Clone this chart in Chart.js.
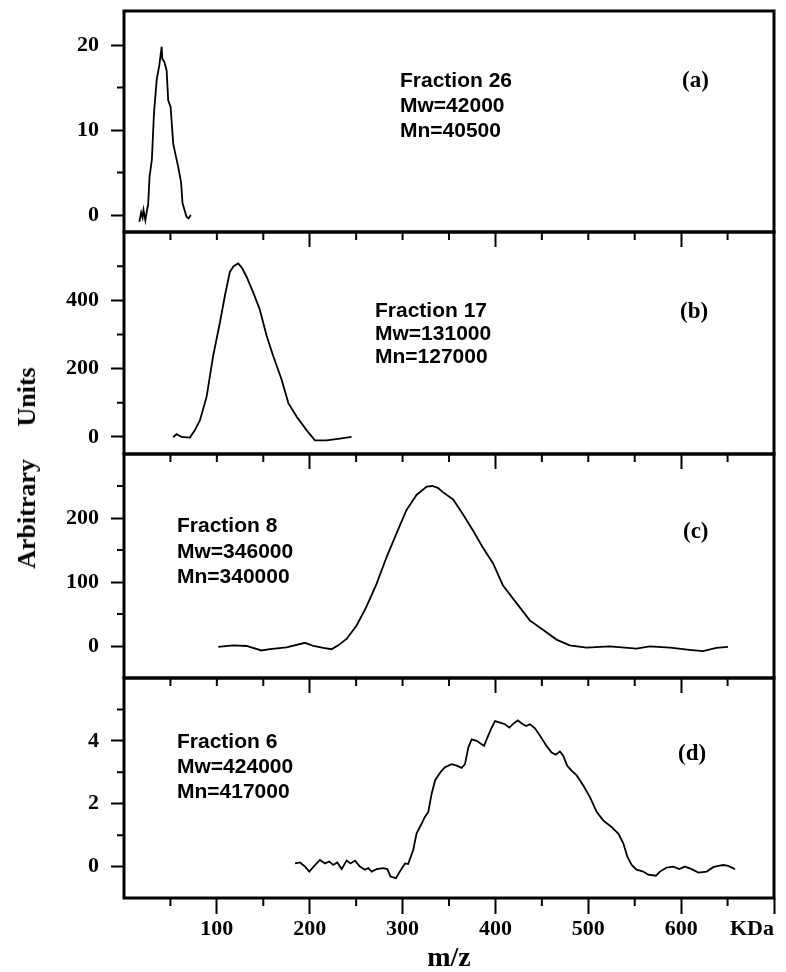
<!DOCTYPE html>
<html>
<head>
<meta charset="utf-8">
<script src="https://cdn.jsdelivr.net/npm/chart.js@4.4.0/dist/chart.umd.min.js"></script>
<style>
html, body { margin: 0; padding: 0; background: #fff; overflow: hidden; }
#wrap { position: relative; width: 786px; height: 972px; background: #fff; }
#wrap canvas { position: absolute; left: 0; }
#ylabel {
    position: absolute; left: 27px; top: 468px;
    transform: translate(-50%, -50%) rotate(-90deg);
    font: bold 26px "Liberation Serif", "Times New Roman", serif;
    white-space: pre; color: #000;
}
</style>
</head>
<body>
<div id="wrap">
    <canvas id="panelA"></canvas>
    <canvas id="panelB"></canvas>
    <canvas id="panelC"></canvas>
    <canvas id="panelD"></canvas>
    <div id="ylabel">Arbitrary     Units</div>
</div>
<script>
// Eje x (m/z, KDa)
const xMajorValues = [0, 100, 200, 300, 400, 500, 600, 700];
const xMajorLabels = ['', '100', '200', '300', '400', '500', '600', 'KDa'];
const xMinorValues = [50, 150, 250, 350, 450, 550, 650];
const innerMajorValues = [200, 400, 600];
const innerMinorValues = [50, 100, 150, 250, 300, 350, 450, 500, 550, 650];

// (a) Fraction 26
const mzA = [16.5, 18.5, 20, 21, 23, 24.5, 26, 27.5, 30, 32.3, 35.2, 38, 40.6, 41.2, 43.5, 45.9, 47.6, 50.2, 53, 55.9, 58.5, 61.5, 63, 67.3, 69.5, 72];
const intA = [-0.8, 0.3, -0.3, 0.6, -0.6, 0.4, 1.2, 4.5, 6.5, 12, 15.9, 17.6, 19.8, 18.4, 18, 17, 13.5, 12.7, 8.4, 6.9, 5.6, 3.8, 1.4, -0.2, -0.4, 0];
const yMajorA = [0, 10, 20];
const yMinorA = [5, 15];

// (b) Fraction 17
const mzB = [53, 56.7, 62, 71, 76.4, 81.8, 89, 96, 103.3, 108.7, 114, 118, 123, 127, 132, 139, 146, 153.6, 160.7, 169.7, 177, 186, 196.6, 205.6, 218, 232.5, 245];
const intB = [0, 8, 0, -2, 20, 49, 118, 237, 335, 414, 483, 500, 508, 495, 469, 424, 375, 296, 237, 168, 99, 59, 20, -10, -10, -5, 0];
const yMajorB = [0, 200, 400];
const yMinorB = [100, 300, 500];

// (c) Fraction 8
const mzC = [101.5, 117.7, 132, 148, 157, 175, 195, 204, 214.6, 223.5, 230.7, 239.7, 250.5, 261, 272, 282.8, 293.5, 304, 315, 326, 332, 338, 343.7, 354.5, 365, 376, 386.8, 397.5, 408, 422.7, 437, 451.5, 465.8, 480, 498, 523, 552, 566, 588, 609, 623.5, 638, 650.5];
const intC = [-1.5, 1, 0, -7, -5, -2, 5, 0, -3, -5, 1, 11, 32, 61, 97, 139, 176, 212, 236, 249, 250, 247, 240, 229, 206, 180, 153, 129, 95, 67, 40, 25, 10, 1, -2.6, -0.5, -4, -0.5, -2.6, -6, -8, -3, -1.5];
const yMajorC = [0, 100, 200];
const yMinorC = [50, 150, 250];

// (d) Fraction 6
const mzD = [184.2, 189.5, 195, 199.6, 205.7, 211, 216.5, 221, 225.4, 229.7, 234.4, 239.8, 244, 248.8, 254, 259.5, 263, 266.7, 272, 279, 283.6, 287, 292.9, 297, 302.6, 306, 311.5, 315, 320.6, 324, 327.7, 331.3, 335, 339.6, 342, 345.7, 352.9, 358.3, 363.6, 367.2, 370.8, 374.4, 379.8, 387.7, 391.3, 396, 399.6, 405, 410.3, 415, 419.3, 424, 428.4, 433, 437.2, 442.6, 448, 455, 460.5, 465, 469.4, 473, 477.3, 482, 487.5, 494.6, 501.8, 509, 516, 525, 532.3, 537.7, 542, 546.7, 552, 559.2, 564.6, 572.9, 577.2, 584.4, 591.6, 598, 604, 611.4, 618.5, 627.5, 634.6, 640, 645.4, 650.8, 658];
const intD = [0.1, 0.13, 0, -0.16, 0.05, 0.21, 0.1, 0.16, 0.05, 0.13, -0.08, 0.19, 0.1, 0.19, 0, -0.1, -0.05, -0.16, -0.08, -0.05, -0.08, -0.32, -0.37, -0.16, 0.1, 0.08, 0.53, 1.05, 1.37, 1.58, 1.74, 2.32, 2.74, 2.95, 3.05, 3.16, 3.26, 3.21, 3.14, 3.26, 3.79, 4.05, 4.0, 3.84, 4.1, 4.42, 4.63, 4.58, 4.53, 4.42, 4.55, 4.65, 4.55, 4.47, 4.53, 4.4, 4.16, 3.84, 3.63, 3.56, 3.66, 3.53, 3.21, 3.05, 2.9, 2.58, 2.21, 1.74, 1.47, 1.26, 1.05, 0.74, 0.32, 0.05, -0.1, -0.16, -0.26, -0.29, -0.16, -0.03, 0, -0.08, 0, -0.08, -0.19, -0.16, -0.02, 0.02, 0.05, 0.02, -0.08];
const yMajorD = [0, 2, 4];
const yMinorD = [1, 3, 5];

const SERIF = '"Liberation Serif", "Times New Roman", serif';
const SANS = '"Liberation Sans", Arial, sans-serif';
const PAD = 6;

// Marco completo del panel
const frame = {
    id: 'frame',
    afterDraw(chart) {
        const { ctx, chartArea } = chart;
        ctx.save();
        ctx.strokeStyle = '#000';
        ctx.lineWidth = 3;
        ctx.strokeRect(chartArea.left, chartArea.top, chartArea.right - chartArea.left, chartArea.bottom - chartArea.top);
        ctx.restore();
    }
};

// Marcas menores (más cortas) sobre los ejes
const minorTicks = {
    id: 'minorTicks',
    afterDraw(chart, args, opts) {
        const { ctx, chartArea, scales } = chart;
        ctx.save();
        ctx.strokeStyle = '#000';
        ctx.lineWidth = 2;
        ctx.beginPath();
        (opts.x || []).forEach(v => {
            const px = scales.x.getPixelForValue(v);
            ctx.moveTo(px, chartArea.bottom);
            ctx.lineTo(px, chartArea.bottom + opts.xLen);
        });
        (opts.y || []).forEach(v => {
            const py = scales.y.getPixelForValue(v);
            ctx.moveTo(chartArea.left, py);
            ctx.lineTo(chartArea.left - opts.yLen, py);
        });
        ctx.stroke();
        ctx.restore();
    }
};

// Textos de cada panel
const panelNotes = {
    id: 'panelNotes',
    afterDraw(chart, args, opts) {
        const { ctx, chartArea } = chart;
        ctx.save();
        ctx.fillStyle = '#000';
        ctx.textBaseline = 'alphabetic';
        ctx.font = 'bold 21px ' + SANS;
        opts.lines.forEach((t, i) => {
            ctx.fillText(t, chartArea.left + opts.dx, chartArea.top + opts.dy + i * opts.step);
        });
        ctx.font = 'bold 23px ' + SERIF;
        ctx.fillText(opts.tag, chartArea.left + opts.tagDx, chartArea.top + opts.tagDy);
        ctx.restore();
    }
};

function makePanel(id, p) {
    const canvas = document.getElementById(id);
    const xHeight = p.bottomAxis ? 74 : 20;
    canvas.width = 786;
    canvas.height = PAD + (p.bottom - p.top) + xHeight;
    canvas.style.top = (p.top - PAD) + 'px';

    const xMajor = p.bottomAxis ? xMajorValues : innerMajorValues;
    const xMinor = p.bottomAxis ? xMinorValues : innerMinorValues;

    new Chart(canvas, {
        type: 'line',
        data: {
            datasets: [{
                data: p.x.map((v, i) => ({ x: v, y: p.y[i] })),
                borderColor: '#000',
                borderWidth: 1.8,
                pointRadius: 0,
                tension: 0,
                fill: false
            }]
        },
        options: {
            responsive: false,
            animation: false,
            events: [],
            layout: { padding: { top: PAD, right: 12, left: 0, bottom: 0 } },
            plugins: {
                legend: { display: false },
                tooltip: { enabled: false },
                minorTicks: { x: xMinor, xLen: 8, y: p.yMinor, yLen: 7 },
                panelNotes: p.notes
            },
            scales: {
                x: {
                    type: 'linear',
                    min: 0,
                    max: 700,
                    afterBuildTicks: s => { s.ticks = xMajor.map(v => ({ value: v })); },
                    afterFit: s => {
                        s.height = xHeight;
                        s.paddingLeft = 0; s.paddingRight = 0;
                    },
                    grid: {
                        drawOnChartArea: false,
                        tickLength: p.bottomAxis ? 16 : 15,
                        tickWidth: 2,
                        tickColor: c => (c.tick && c.tick.value === 0) ? 'rgba(0,0,0,0)' : '#000'
                    },
                    border: { display: false },
                    ticks: {
                        display: !!p.bottomAxis,
                        align: 'inner',
                        padding: 2,
                        color: '#000',
                        font: { family: SERIF, size: 22, weight: 'bold' },
                        callback: v => xMajorLabels[xMajorValues.indexOf(v)]
                    },
                    title: {
                        display: !!p.bottomAxis,
                        text: 'm/z',
                        color: '#000',
                        font: { family: SERIF, size: 28, weight: 'bold' },
                        padding: { top: 0, bottom: -4 }
                    }
                },
                y: {
                    type: 'linear',
                    min: p.yMin,
                    max: p.yMax,
                    afterBuildTicks: s => { s.ticks = p.yMajor.map(v => ({ value: v })); },
                    afterFit: s => {
                        s.width = 124;
                        s.paddingTop = 0; s.paddingBottom = 0;
                    },
                    grid: { drawOnChartArea: false, tickLength: 13, tickWidth: 2, tickColor: '#000' },
                    border: { display: false },
                    ticks: {
                        padding: 12,
                        color: '#000',
                        font: { family: SERIF, size: 22, weight: 'bold' }
                    }
                }
            }
        },
        plugins: [frame, minorTicks, panelNotes]
    });
}

makePanel('panelA', {
    top: 11, bottom: 232, x: mzA, y: intA, yMin: -2, yMax: 24, yMajor: yMajorA, yMinor: yMinorA,
    notes: { lines: ['Fraction 26', 'Mw=42000', 'Mn=40500'], dx: 276, dy: 76, step: 25, tag: '(a)', tagDx: 558, tagDy: 76 }
});
makePanel('panelB', {
    top: 232, bottom: 454, x: mzB, y: intB, yMin: -50, yMax: 600, yMajor: yMajorB, yMinor: yMinorB,
    notes: { lines: ['Fraction 17', 'Mw=131000', 'Mn=127000'], dx: 251, dy: 85, step: 23, tag: '(b)', tagDx: 556, tagDy: 86 }
});
makePanel('panelC', {
    top: 454, bottom: 678, x: mzC, y: intC, yMin: -50, yMax: 300, yMajor: yMajorC, yMinor: yMinorC,
    notes: { lines: ['Fraction 8', 'Mw=346000', 'Mn=340000'], dx: 53, dy: 78, step: 25.5, tag: '(c)', tagDx: 559, tagDy: 84 }
});
makePanel('panelD', {
    top: 678, bottom: 898, x: mzD, y: intD, yMin: -1, yMax: 6, yMajor: yMajorD, yMinor: yMinorD, bottomAxis: true,
    notes: { lines: ['Fraction 6', 'Mw=424000', 'Mn=417000'], dx: 53, dy: 70, step: 25, tag: '(d)', tagDx: 554, tagDy: 82 }
});
</script>
</body>
</html>
